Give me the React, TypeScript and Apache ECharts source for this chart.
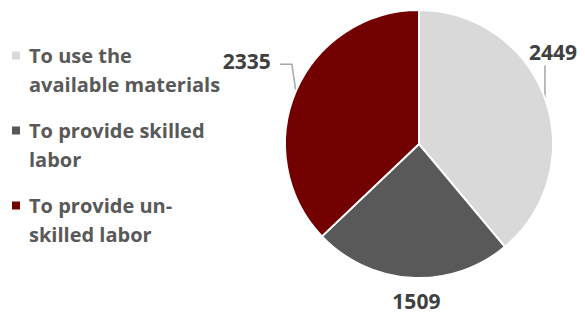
import React, { useEffect, useRef } from "react";
import * as echarts from "echarts";

const categories = [
  "To use the\navailable materials",
  "To provide skilled\nlabor",
  "To provide un-\nskilled labor",
];
const values = [2449, 1509, 2335];

const sliceColors = ["#d9d9d9", "#595959", "#720000"];
const FONT = "'Open Sans', 'Noto Sans', sans-serif";

// offsets (px) of leader-line bends and label centre from the slice's edge point
const labelOffsets: { line: number[][]; text: number[] }[] = [
  { line: [[0, -33]], text: [8, -46] },
  { line: [[0, 0]], text: [5, 23] },
  { line: [[-4, -27], [-16, -27]], text: [-49, -30] },
];

export default function App() {
  const ref = useRef<HTMLDivElement>(null);
  useEffect(() => {
    if (!ref.current) return;
    const chart = echarts.init(ref.current, undefined, { renderer: "svg" });
    chart.setOption({
      animation: false,
      backgroundColor: "#ffffff",
      color: sliceColors,
      legend: {
        orient: "vertical",
        left: 10,
        top: 12,
        padding: 0,
        itemGap: -12,
        itemWidth: 10,
        itemHeight: 10,
        icon: "rect",
        selectedMode: false,
        data: categories,
        // a leading blank line keeps the marker level with the first text line
        formatter: (name: string) => "\u00a0\n" + name,
        textStyle: {
          fontFamily: FONT,
          fontSize: 20,
          fontWeight: "bold",
          color: "#595959",
          lineHeight: 29,
          padding: [0, 0, 0, 3],
        },
      },
      series: [
        {
          type: "pie",
          center: [419, 144],
          radius: 134,
          startAngle: 90,
          clockwise: true,
          avoidLabelOverlap: false,
          silent: true,
          emphasis: { disabled: true },
          itemStyle: { borderColor: "#ffffff", borderWidth: 2 },
          label: {
            show: true,
            position: "outside",
            formatter: "{c}",
            fontFamily: FONT,
            fontSize: 21,
            fontWeight: "bold",
            color: "#404040",
          },
          labelLine: {
            show: true,
            length: 10,
            length2: 10,
            lineStyle: { color: "#a6a6a6", width: 1.5 },
          },
          labelLayout: (params: any) => {
            const pts = params.labelLinePoints;
            if (!pts || !pts.length) return {};
            const ax = pts[0][0];
            const ay = pts[0][1];
            const o = labelOffsets[params.dataIndex];
            return {
              x: ax + o.text[0],
              y: ay + o.text[1],
              align: "center",
              verticalAlign: "middle",
              labelLinePoints: [[ax, ay], ...o.line.map((p) => [ax + p[0], ay + p[1]])],
            };
          },
          data: categories.map((name, i) => ({ name, value: values[i] })),
        },
      ],
    });
    return () => chart.dispose();
  }, []);
  return (
    <div
      ref={ref}
      style={{ position: "fixed", left: 0, top: 0, width: 585, height: 316 }}
    />
  );
}
